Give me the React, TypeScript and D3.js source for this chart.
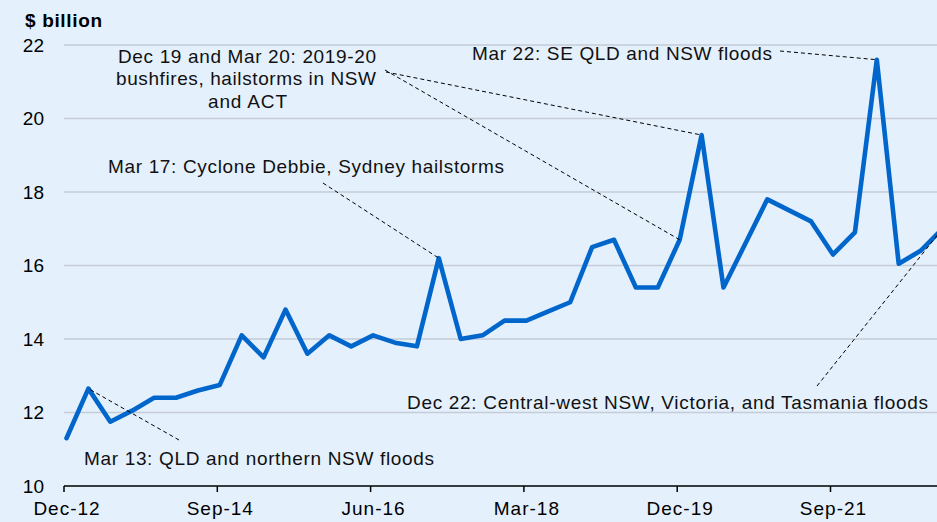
import React from 'react';
import * as d3 from 'd3';

const Settings = {
  width: 937,
  height: 522,
  left: 64,
  top: 45,
  bottom: 486,
  bg: '#e4f0fc',
  lineColor: '#0066cc',
  grid: '#c5ccd6',
  font: '"Liberation Sans", Arial, sans-serif',
};

// quarterly values, Dec-12 .. Dec-22
const quarters = [
  'Dec-12', 'Mar-13', 'Jun-13', 'Sep-13', 'Dec-13', 'Mar-14', 'Jun-14', 'Sep-14',
  'Dec-14', 'Mar-15', 'Jun-15', 'Sep-15', 'Dec-15', 'Mar-16', 'Jun-16', 'Sep-16',
  'Dec-16', 'Mar-17', 'Jun-17', 'Sep-17', 'Dec-17', 'Mar-18', 'Jun-18', 'Sep-18',
  'Dec-18', 'Mar-19', 'Jun-19', 'Sep-19', 'Dec-19', 'Mar-20', 'Jun-20', 'Sep-20',
  'Dec-20', 'Mar-21', 'Jun-21', 'Sep-21', 'Dec-21', 'Mar-22', 'Jun-22', 'Sep-22',
  'Dec-22',
];
const values = [
  11.3, 12.65, 11.75, 12.05, 12.4, 12.4, 12.6, 12.75,
  14.1, 13.5, 14.8, 13.6, 14.1, 13.8, 14.1, 13.9,
  13.8, 16.2, 14.0, 14.1, 14.5, 14.5, 14.75, 15.0,
  16.5, 16.7, 15.4, 15.4, 16.7, 19.55, 15.4, 16.6,
  17.8, 17.5, 17.2, 16.3, 16.9, 21.6, 16.05, 16.4,
  17.0,
];
const xTickLabels = ['Dec-12', 'Sep-14', 'Jun-16', 'Mar-18', 'Dec-19', 'Sep-21'];
const yTicks = [10, 12, 14, 16, 18, 20, 22];

// annotation text and where it sits; leaders end on the quarter they point at
const notes = [
  { lines: ['Mar 13: QLD and northern NSW floods'], x: [84], y: [465], w: [350] },
  { lines: ['Mar 17: Cyclone Debbie, Sydney hailstorms'], x: [108], y: [173], w: [396] },
  {
    lines: ['Dec 19 and Mar 20: 2019-20', 'bushfires, hailstorms in NSW', 'and ACT'],
    x: [118, 116, 208], y: [63, 85, 108], w: [258, 260, 79],
  },
  { lines: ['Mar 22: SE QLD and NSW floods'], x: [472], y: [60], w: [300] },
  { lines: ['Dec 22: Central-west NSW, Victoria, and Tasmania floods'], x: [407], y: [409], w: [521] },
];
const leaders = [
  { from: [179, 440], to: 'Mar-13' },
  { from: [323, 183], to: 'Mar-17' },
  { from: [385, 70], to: 'Dec-19' },
  { from: [386, 72], to: 'Mar-20' },
  { from: [780, 51], to: 'Mar-22' },
  { from: [817, 386], to: 'Dec-22' },
];

export default function App() {
  const x = d3.scaleLinear()
    .domain([0, quarters.length - 1])
    .range([66.5, 942.5]);
  const y = d3.scaleLinear()
    .domain([10, 22])
    .range([Settings.bottom, Settings.top]);

  const myLine = d3.line<number>()
    .x((_, i) => x(i))
    .y(v => y(v));

  return (
    <div>
      <style>{`body{margin:0}`}</style>
      <svg width={Settings.width} height={Settings.height} style={{ display: 'block', fontFamily: Settings.font }}>
        <rect width={Settings.width} height={Settings.height} fill={Settings.bg} />

        {yTicks.map(t => (
          <g key={t}>
            {t > 10 && (
              <line x1={Settings.left} x2={Settings.width} y1={y(t)} y2={y(t)} stroke={Settings.grid} strokeWidth={1.3} />
            )}
            <text x={44} y={y(t)} dy="0.36em" textAnchor="end" fontSize={19} fill="#000">{t}</text>
          </g>
        ))}

        <text x={25} y={27} fontSize={19} fontWeight="bold" textLength={77} lengthAdjust="spacing">$ billion</text>

        <line x1={Settings.left} x2={Settings.width} y1={Settings.bottom} y2={Settings.bottom} stroke="#000" strokeWidth={1.5} />
        {xTickLabels.map(lbl => {
          const i = quarters.indexOf(lbl);
          const px = x(i) - 2.5;
          return (
            <g key={lbl}>
              <line x1={px} x2={px} y1={Settings.bottom} y2={Settings.bottom + 6} stroke="#000" strokeWidth={1.5} />
              <text x={px + 3} y={515} textAnchor="middle" fontSize={19} letterSpacing={1}>{lbl}</text>
            </g>
          );
        })}

        <path d={myLine(values) || ''} fill="none" stroke={Settings.lineColor} strokeWidth={4.6} strokeLinejoin="round" strokeLinecap="round" />

        {leaders.map((l, k) => {
          const i = quarters.indexOf(l.to);
          return (
            <line key={k} x1={l.from[0]} y1={l.from[1]} x2={x(i)} y2={y(values[i])}
              stroke="#000" strokeWidth={1} strokeDasharray="4 3" />
          );
        })}

        {notes.map((n, k) => (
          <g key={k}>
            {n.lines.map((s, j) => (
              <text key={j} x={n.x[j]} y={n.y[j]} fontSize={19} fill="#111"
                textLength={n.w[j]} lengthAdjust="spacing">{s}</text>
            ))}
          </g>
        ))}
      </svg>
    </div>
  );
}
